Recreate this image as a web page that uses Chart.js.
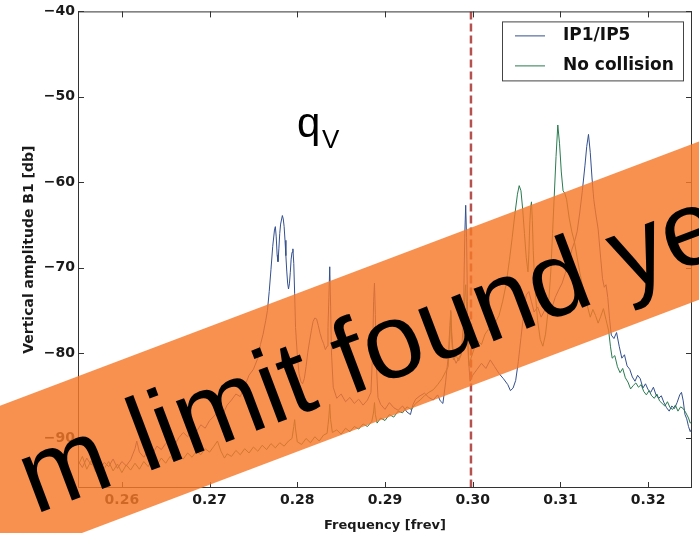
<!DOCTYPE html>
<html>
<head>
<meta charset="utf-8">
<script src="https://cdn.jsdelivr.net/npm/chart.js@4.4.1/dist/chart.umd.min.js"></script>
<style>
  html, body { margin: 0; padding: 0; background: #fff; }
  canvas { display: block; }
</style>
</head>
<body>
<canvas id="spectrumChart" width="699" height="533"></canvas>
<script>
// tick labels
const xTicks = [0.26, 0.27, 0.28, 0.29, 0.30, 0.31, 0.32];
const yTicks = [-90, -80, -70, -60, -50, -40];

// IP1/IP5 spectrum
const ipFreq = [
  0.2550, 0.2555, 0.2560, 0.2565, 0.2570, 0.2575, 0.2580, 0.2585, 0.2590, 0.2595,
  0.2600, 0.2605, 0.2610, 0.2615, 0.2617, 0.2620, 0.2625, 0.2630, 0.2635, 0.2640,
  0.2645, 0.2650, 0.2655, 0.2660, 0.2665, 0.2670, 0.2675, 0.2680, 0.2685, 0.2690,
  0.2695, 0.2700, 0.2705, 0.2710, 0.2715, 0.2720, 0.2725, 0.2730, 0.2735, 0.2740,
  0.2745, 0.2750, 0.2755, 0.2758, 0.2761, 0.2764, 0.2766, 0.2768, 0.2770, 0.2772,
  0.2774, 0.2775, 0.2776, 0.2777, 0.2778, 0.2779, 0.2780, 0.2781, 0.2783, 0.2784,
  0.2785, 0.2786, 0.2787, 0.2788, 0.2789, 0.2790, 0.2791, 0.2792, 0.2793, 0.2794,
  0.2795, 0.2796, 0.2797, 0.2798, 0.2800, 0.2802, 0.2804, 0.2806, 0.2808, 0.2810,
  0.2812, 0.2814, 0.2816, 0.2818, 0.2820, 0.2822, 0.2824, 0.2826, 0.2828, 0.2830,
  0.2832, 0.2834, 0.2835, 0.2836, 0.2837, 0.2838, 0.2839, 0.2841, 0.2845, 0.2850,
  0.2855, 0.2860, 0.2865, 0.2870, 0.2875, 0.2880, 0.2884, 0.2886, 0.2887, 0.2888,
  0.2889, 0.2890, 0.2892, 0.2895, 0.2900, 0.2905, 0.2910, 0.2915, 0.2920, 0.2925,
  0.2929, 0.2932, 0.2935, 0.2940, 0.2945, 0.2950, 0.2955, 0.2960, 0.2963, 0.2966,
  0.2969, 0.2972, 0.2974, 0.2975, 0.2976, 0.2978, 0.2981, 0.2984, 0.2987, 0.2989,
  0.2990, 0.2991, 0.2992, 0.2993, 0.2994, 0.2995, 0.2997, 0.3000, 0.3005, 0.3010,
  0.3015, 0.3020, 0.3025, 0.3030, 0.3035, 0.3040, 0.3043, 0.3046, 0.3049, 0.3052,
  0.3055, 0.3058, 0.3061, 0.3064, 0.3067, 0.3070, 0.3074, 0.3078, 0.3082, 0.3086,
  0.3090, 0.3094, 0.3098, 0.3102, 0.3106, 0.3110, 0.3113, 0.3116, 0.3119, 0.3122,
  0.3125, 0.3128, 0.3130, 0.3132, 0.3134, 0.3136, 0.3138, 0.3140, 0.3143, 0.3146,
  0.3148, 0.3150, 0.3152, 0.3154, 0.3156, 0.3158, 0.3161, 0.3164, 0.3167, 0.3170,
  0.3173, 0.3176, 0.3179, 0.3182, 0.3185, 0.3188, 0.3191, 0.3194, 0.3197, 0.3200,
  0.3203, 0.3206, 0.3209, 0.3212, 0.3215, 0.3218, 0.3221, 0.3224, 0.3227, 0.3230,
  0.3233, 0.3236, 0.3238, 0.3240, 0.3242, 0.3244, 0.3246, 0.3248, 0.3250
];
const ipAmp = [
  -92.6, -93.4, -92.3, -93.1, -92.5, -93.6, -92.8, -93.3, -92.4, -93.5,
  -92.7, -93.2, -92.5, -91.2, -90.3, -91.6, -92.2, -91.4, -91.8, -90.9,
  -91.3, -90.6, -90.2, -90.8, -89.9, -89.3, -89.8, -88.9, -89.2, -88.4,
  -88.8, -87.9, -87.4, -86.8, -87.2, -86.1, -85.5, -84.8, -85.1, -83.9,
  -82.6, -81.9, -80.6, -79.0, -77.8, -76.2, -75.0, -72.8, -70.2, -67.5,
  -65.6, -65.2, -66.4, -68.5, -69.3, -67.8, -66.0, -64.9, -63.9, -64.3,
  -65.2, -66.8, -68.6, -70.4, -71.8, -72.5, -71.9, -70.6, -69.0, -68.2,
  -67.8, -69.5, -73.0, -77.0, -80.2, -82.4, -83.3, -83.6, -83.0, -81.6,
  -79.9, -78.6, -77.4, -76.3, -75.9, -76.0, -76.8, -77.7, -78.4, -78.9,
  -79.6, -79.2, -77.0, -73.5, -69.9, -74.5, -80.0, -84.0, -85.3, -84.8,
  -85.7, -85.2, -85.9, -85.4, -86.1, -85.5, -84.6, -79.5, -74.0, -71.8,
  -75.5, -81.0, -85.2, -86.0, -86.6, -85.8, -86.4, -86.7, -86.2, -86.9,
  -87.2, -86.0, -85.4, -85.0, -84.7, -85.2, -85.5, -84.9, -85.6, -85.9,
  -83.5, -80.5, -76.8, -75.0, -77.5, -80.4, -81.2, -80.6, -80.1, -77.0,
  -72.0, -66.0, -62.7, -66.5, -74.0, -80.5, -83.3, -82.6, -81.9, -81.2,
  -81.8, -80.8, -81.6, -82.4, -83.0, -83.7, -84.4, -84.1, -83.2, -81.0,
  -78.2, -75.5, -73.2, -72.8, -74.0, -75.2, -74.6, -75.8, -75.0, -74.2,
  -74.8, -73.5, -72.6, -71.8, -70.5, -69.2, -67.9, -67.0, -65.8, -63.6,
  -61.0, -58.0, -55.8, -54.4, -56.5, -59.5, -62.0, -63.5, -65.5, -69.0,
  -71.3, -72.3, -72.0, -73.5, -76.0, -77.9, -78.3, -77.6, -79.2, -80.6,
  -80.2, -81.5, -81.9, -82.8, -83.3, -82.6, -83.0, -84.1, -83.6, -84.3,
  -84.6, -84.0, -84.9, -85.3, -85.0, -85.8, -86.4, -86.8, -86.2, -86.5,
  -85.8, -84.9, -84.6, -85.6, -87.2, -87.7, -88.6, -89.2, -88.8
];

// No collision spectrum
const ncFreq = [
  0.2550, 0.2555, 0.2560, 0.2565, 0.2570, 0.2575, 0.2580, 0.2585, 0.2590, 0.2595,
  0.2600, 0.2605, 0.2610, 0.2615, 0.2620, 0.2625, 0.2630, 0.2635, 0.2640, 0.2645,
  0.2650, 0.2655, 0.2660, 0.2665, 0.2670, 0.2675, 0.2680, 0.2685, 0.2690, 0.2695,
  0.2700, 0.2705, 0.2709, 0.2713, 0.2717, 0.2720, 0.2725, 0.2730, 0.2735, 0.2740,
  0.2745, 0.2750, 0.2755, 0.2760, 0.2765, 0.2770, 0.2775, 0.2780, 0.2785, 0.2790,
  0.2794, 0.2796, 0.2797, 0.2798, 0.2800, 0.2805, 0.2810, 0.2815, 0.2820, 0.2825,
  0.2830, 0.2834, 0.2836, 0.2837, 0.2838, 0.2840, 0.2845, 0.2850, 0.2855, 0.2860,
  0.2865, 0.2870, 0.2875, 0.2880, 0.2885, 0.2887, 0.2888, 0.2889, 0.2891, 0.2895,
  0.2900, 0.2905, 0.2910, 0.2915, 0.2920, 0.2925, 0.2930, 0.2935, 0.2940, 0.2945,
  0.2950, 0.2955, 0.2960, 0.2965, 0.2969, 0.2972, 0.2974, 0.2975, 0.2976, 0.2978,
  0.2981, 0.2984, 0.2987, 0.2989, 0.2990, 0.2991, 0.2992, 0.2993, 0.2994, 0.2996,
  0.2998, 0.3002, 0.3006, 0.3010, 0.3014, 0.3018, 0.3022, 0.3026, 0.3030, 0.3034,
  0.3038, 0.3042, 0.3045, 0.3048, 0.3051, 0.3053, 0.3055, 0.3057, 0.3059, 0.3061,
  0.3063, 0.3064, 0.3065, 0.3066, 0.3067, 0.3068, 0.3069, 0.3071, 0.3074, 0.3077,
  0.3080, 0.3083, 0.3086, 0.3089, 0.3091, 0.3093, 0.3095, 0.3097, 0.3099, 0.3101,
  0.3103, 0.3105, 0.3107, 0.3110, 0.3113, 0.3116, 0.3119, 0.3122, 0.3125, 0.3128,
  0.3131, 0.3134, 0.3137, 0.3140, 0.3143, 0.3146, 0.3149, 0.3152, 0.3155, 0.3157,
  0.3159, 0.3162, 0.3165, 0.3168, 0.3171, 0.3174, 0.3177, 0.3180, 0.3183, 0.3186,
  0.3189, 0.3192, 0.3195, 0.3198, 0.3201, 0.3204, 0.3207, 0.3210, 0.3213, 0.3216,
  0.3219, 0.3222, 0.3225, 0.3228, 0.3231, 0.3234, 0.3237, 0.3240, 0.3243, 0.3246,
  0.3248, 0.3250
];
const ncAmp = [
  -93.2, -92.1, -93.6, -92.6, -93.9, -92.9, -93.5, -92.7, -93.8, -93.0,
  -94.0, -93.1, -93.7, -92.9, -93.6, -92.7, -93.3, -92.4, -93.1, -92.3,
  -92.9, -92.1, -92.7, -91.9, -92.4, -91.7, -92.2, -91.5, -91.9, -91.2,
  -91.6, -90.9, -90.3, -91.5, -92.3, -91.8, -92.1, -91.4, -91.9, -91.2,
  -91.7, -91.0, -91.5, -90.8, -91.3, -90.6, -91.1, -90.5, -90.9, -90.3,
  -90.0, -88.6, -87.8, -88.9, -90.4, -90.7, -90.0, -90.5, -89.8, -90.3,
  -89.6, -89.4, -87.5, -86.0, -87.8, -89.3, -89.0, -89.5, -88.8, -89.2,
  -88.6, -88.9, -88.3, -88.6, -88.0, -86.9, -85.8, -87.2, -88.2, -87.6,
  -87.9, -87.2, -87.5, -86.8, -87.0, -86.3, -86.6, -85.9, -85.5, -85.0,
  -84.6, -84.3, -83.7, -83.0, -82.2, -81.6, -78.0, -75.2, -78.4, -80.8,
  -80.3, -80.9, -80.2, -78.5, -76.0, -73.5, -72.0, -74.5, -78.5, -81.5,
  -80.6, -79.4, -78.6, -79.0, -77.8, -77.2, -77.6, -76.4, -75.6, -74.0,
  -72.0, -69.0, -66.5, -63.8, -61.4, -60.4, -61.0, -63.2, -66.0, -68.8,
  -70.5, -68.4, -65.0, -63.0, -62.3, -64.5, -68.0, -72.5, -76.2, -78.4,
  -79.2, -77.8, -75.0, -70.5, -66.0, -61.5, -57.0, -53.3, -55.5, -58.8,
  -61.0, -61.3, -62.0, -64.2, -65.8, -67.0, -68.8, -70.5, -72.0, -73.4,
  -74.6, -75.8, -74.9, -75.6, -76.5, -75.7, -74.8, -76.1, -77.4, -79.2,
  -80.6, -80.3, -81.6, -82.3, -81.8, -82.9, -83.4, -84.2, -83.8, -83.5,
  -84.0, -83.7, -84.5, -84.9, -84.4, -85.0, -85.3, -84.8, -85.6, -85.9,
  -86.2, -85.7, -86.4, -86.6, -86.1, -86.8, -86.3, -86.5, -87.0, -87.6,
  -88.2, -88.0
];

// vertical marker (dashed red line)
const markerFreq = [0.2998, 0.2998];
const markerAmp = [-40, -95.8];

const seriesLabels = ['IP1/IP5', 'No collision'];
const seriesColors = ['#34508e', '#2a7b50'];

function toPoints(xs, ys) {
  return xs.map((x, i) => ({ x: x, y: ys[i] }));
}

const tickFont = { family: 'DejaVu Sans', size: 14, weight: 'bold' };

// frame, inward ticks, legend box and q_V label
const framePlugin = {
  id: 'frame',
  afterDatasetsDraw(chart) {
    const { ctx, chartArea: ca, scales } = chart;
    ctx.save();
    ctx.strokeStyle = '#333';
    ctx.lineWidth = 1;
    ctx.strokeRect(ca.left + 0.5, ca.top + 0.5, ca.right - ca.left - 1, ca.bottom - ca.top - 1);
    ctx.beginPath();
    xTicks.forEach(v => {
      const px = Math.round(scales.x.getPixelForValue(v)) + 0.5;
      ctx.moveTo(px, ca.bottom); ctx.lineTo(px, ca.bottom - 6);
      ctx.moveTo(px, ca.top); ctx.lineTo(px, ca.top + 6);
    });
    yTicks.forEach(v => {
      const py = Math.round(scales.y.getPixelForValue(v)) + 0.5;
      ctx.moveTo(ca.left, py); ctx.lineTo(ca.left + 6, py);
      ctx.moveTo(ca.right, py); ctx.lineTo(ca.right - 6, py);
    });
    ctx.stroke();

    // legend
    const bw = 181, bh = 59;
    const bx = ca.right - 9 - bw, by = ca.top + 10;
    ctx.fillStyle = '#fff';
    ctx.fillRect(bx, by, bw, bh);
    ctx.strokeStyle = '#444';
    ctx.strokeRect(bx + 0.5, by + 0.5, bw, bh);
    ctx.font = 'bold 17px "DejaVu Sans"';
    ctx.textBaseline = 'middle';
    ctx.textAlign = 'left';
    seriesLabels.forEach((lab, i) => {
      const ly = by + 14 + i * 30;
      ctx.strokeStyle = seriesColors[i];
      ctx.lineWidth = 1;
      ctx.beginPath();
      ctx.moveTo(bx + 13, ly + 0.5); ctx.lineTo(bx + 43, ly + 0.5);
      ctx.stroke();
      ctx.fillStyle = '#111';
      ctx.fillText(lab, bx + 61, ly);
    });

    // q_V annotation
    ctx.fillStyle = '#000';
    ctx.textBaseline = 'alphabetic';
    ctx.font = '42px "Liberation Sans"';
    ctx.fillText('q', 297, 137);
    ctx.font = '26px "Liberation Sans"';
    ctx.fillText('V', 322, 148);
    ctx.restore();
  }
};

// the orange overlay banner
const bannerPlugin = {
  id: 'banner',
  afterDraw(chart) {
    const ctx = chart.ctx;
    ctx.save();
    ctx.translate(350, 352.6);
    ctx.rotate(-20.7 * Math.PI / 180);
    ctx.fillStyle = 'rgba(246, 120, 40, 0.82)';
    ctx.fillRect(-700, -74, 1400, 148);
    ctx.fillStyle = '#000';
    ctx.font = '106px "Liberation Sans"';
    ctx.textBaseline = 'alphabetic';
    ctx.textAlign = 'left';
    ctx.fillText('m limit found yet', -352, 40);
    ctx.restore();
  }
};

new Chart(document.getElementById('spectrumChart'), {
  type: 'line',
  data: {
    datasets: [{
      label: seriesLabels[0],
      data: toPoints(ipFreq, ipAmp),
      borderColor: seriesColors[0],
      borderWidth: 1,
      pointRadius: 0,
      tension: 0,
      order: 2
    }, {
      label: seriesLabels[1],
      data: toPoints(ncFreq, ncAmp),
      borderColor: seriesColors[1],
      borderWidth: 1,
      pointRadius: 0,
      tension: 0,
      order: 1
    }, {
      label: 'marker',
      data: toPoints(markerFreq, markerAmp),
      borderColor: '#b5524f',
      borderWidth: 2.5,
      borderDash: [8, 4],
      pointRadius: 0,
      order: 0
    }]
  },
  options: {
    responsive: false,
    animation: false,
    layout: { padding: { top: 9, right: 7, left: 0, bottom: 0 } },
    plugins: {
      legend: { display: false },
      tooltip: { enabled: false }
    },
    scales: {
      x: {
        type: 'linear',
        min: 0.255,
        max: 0.325,
        grid: { display: false, drawTicks: false },
        border: { display: false },
        afterBuildTicks: s => { s.ticks = xTicks.map(v => ({ value: v })); },
        afterFit: s => { s.height = 45; },
        ticks: {
          padding: 4,
          color: '#1a1a1a',
          font: tickFont,
          maxRotation: 0,
          callback: v => v.toFixed(2)
        },
        title: {
          display: true,
          text: 'Frequency [frev]',
          color: '#1a1a1a',
          font: { family: 'DejaVu Sans', size: 13, weight: 'bold' },
          padding: { top: 9, bottom: 0 }
        }
      },
      y: {
        type: 'linear',
        min: -95.8,
        max: -40,
        grid: { display: false, drawTicks: false },
        border: { display: false },
        afterBuildTicks: s => { s.ticks = yTicks.map(v => ({ value: v })); },
        afterFit: s => { s.width = 78; },
        ticks: {
          padding: 3,
          color: '#1a1a1a',
          font: tickFont,
          callback: v => (v < 0 ? '\u2212' + Math.abs(v) : String(v))
        },
        title: {
          display: true,
          text: 'Vertical amplitude B1 [db]',
          color: '#1a1a1a',
          font: { family: 'DejaVu Sans', size: 14, weight: 'bold' },
          padding: { top: 21, bottom: 0 }
        }
      }
    }
  },
  plugins: [framePlugin, bannerPlugin]
});
</script>
</body>
</html>
